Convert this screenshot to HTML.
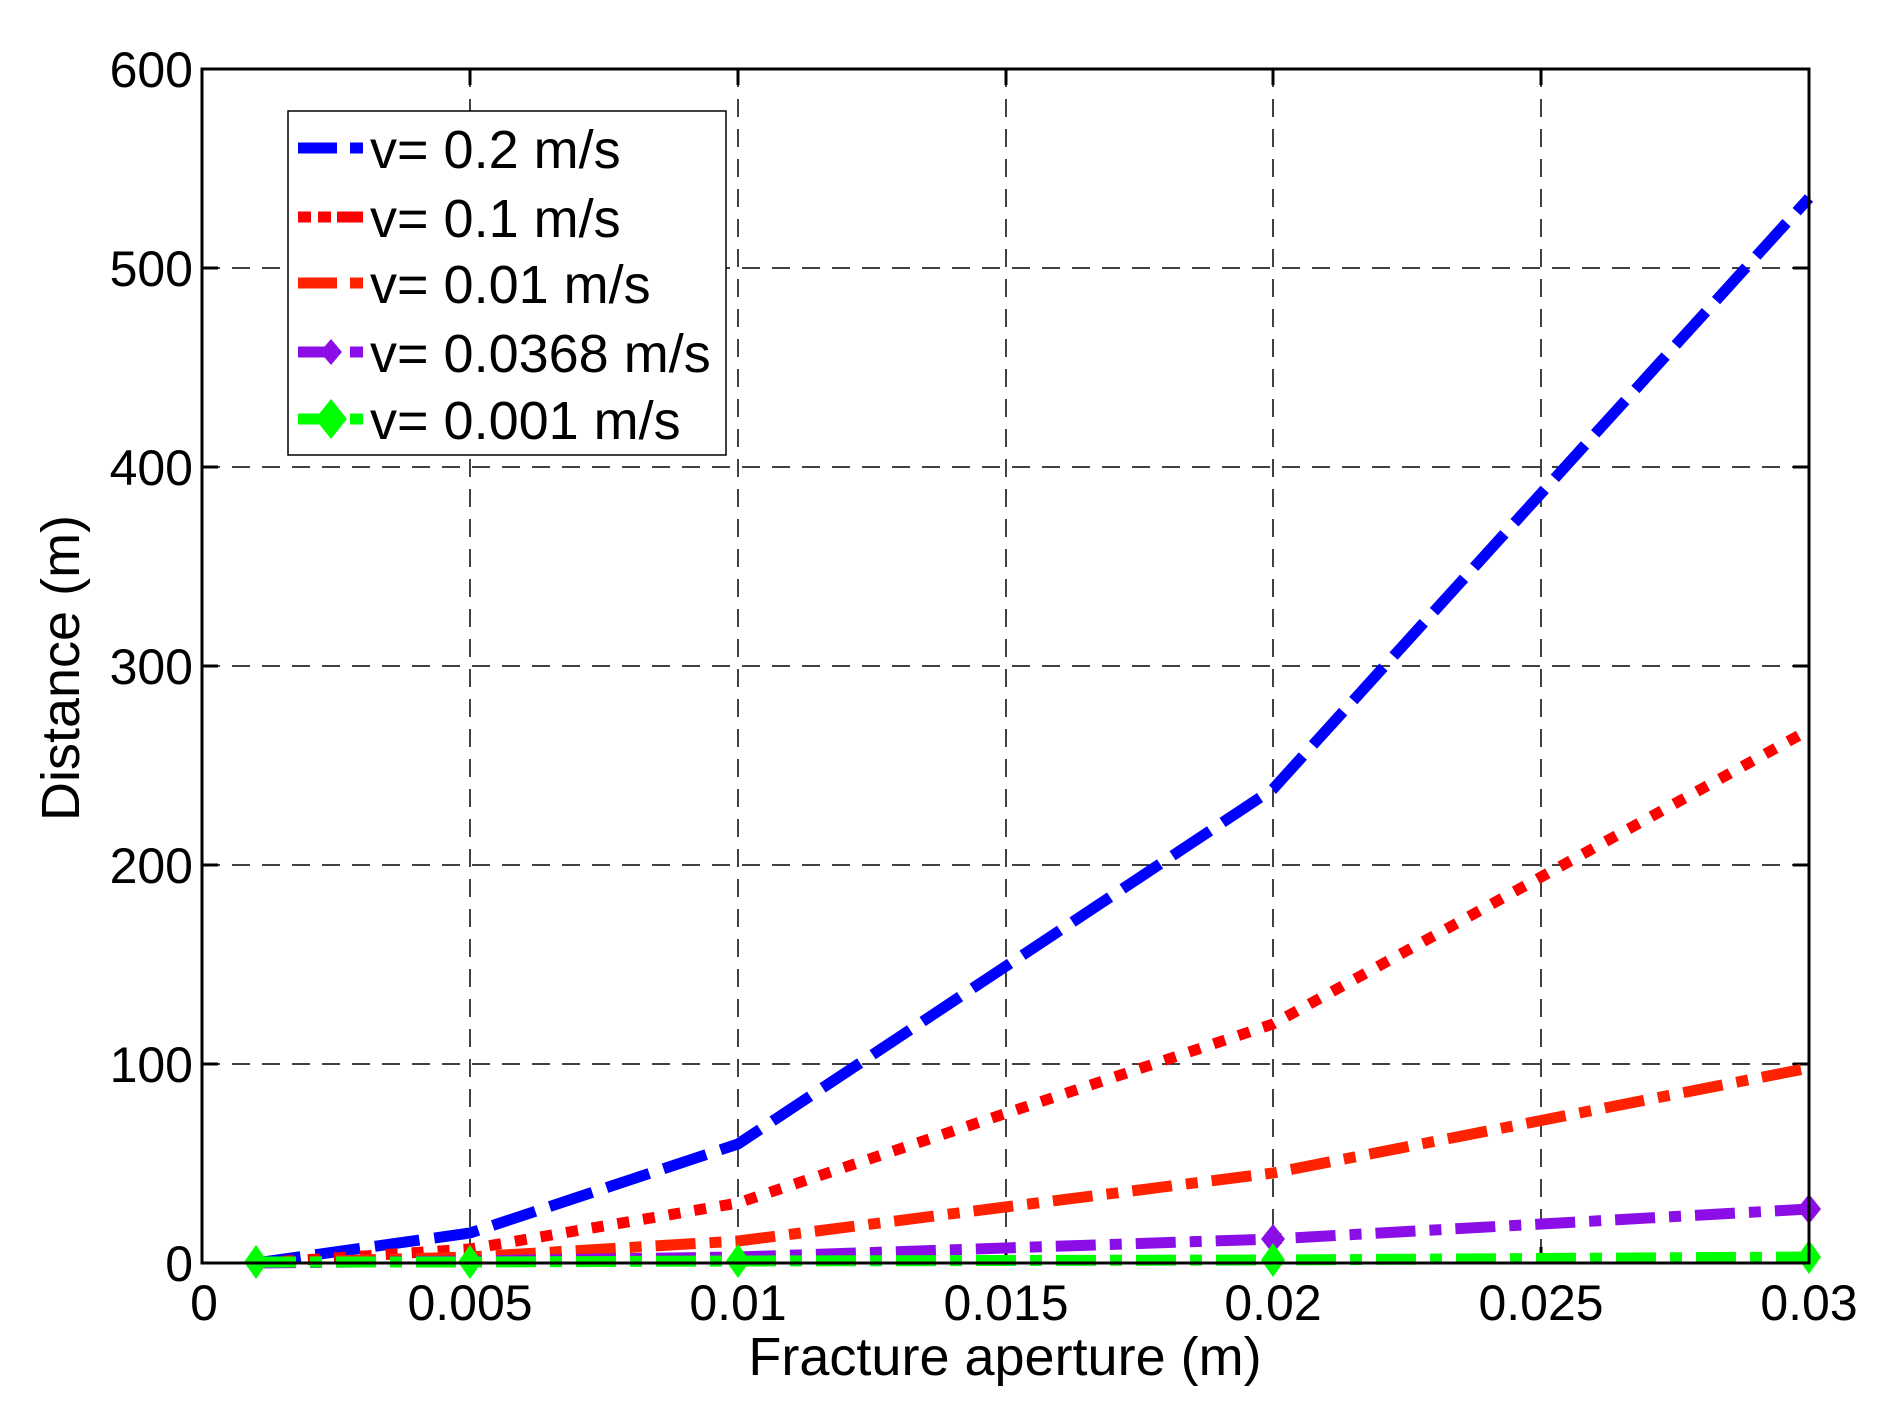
<!DOCTYPE html>
<html><head><style>body{margin:0;background:#fff}svg{display:block}</style></head><body>
<svg width="1895" height="1419" xmlns="http://www.w3.org/2000/svg" font-family="Liberation Sans, sans-serif">
<rect width="1895" height="1419" fill="#fff"/>
<g stroke="#000" stroke-width="1.5" stroke-dasharray="18,12">
<line x1="470" y1="69" x2="470" y2="1263"/><line x1="738" y1="69" x2="738" y2="1263"/><line x1="1006" y1="69" x2="1006" y2="1263"/><line x1="1273" y1="69" x2="1273" y2="1263"/><line x1="1541" y1="69" x2="1541" y2="1263"/>
<line x1="202" y1="268" x2="1809" y2="268"/><line x1="202" y1="467" x2="1809" y2="467"/><line x1="202" y1="666" x2="1809" y2="666"/><line x1="202" y1="865" x2="1809" y2="865"/><line x1="202" y1="1064" x2="1809" y2="1064"/>
</g>
<g stroke="#000" stroke-width="3">
<path d="M470 1263v-16M738 1263v-16M1006 1263v-16M1273 1263v-16M1541 1263v-16M470 69v16M738 69v16M1006 69v16M1273 69v16M1541 69v16"/>
<path d="M202 268h16M202 467h16M202 666h16M202 865h16M202 1064h16M1809 268h-16M1809 467h-16M1809 666h-16M1809 865h-16M1809 1064h-16"/>
</g>
<g fill="none" stroke-width="11" stroke-linejoin="round">
<polyline stroke="#0000ff" stroke-dasharray="45,15" points="256,1263 470,1233 738,1144 1273,789 1809,198"/>
<polyline stroke="#ff0000" stroke-dasharray="12,14" points="256,1263 470,1249 738,1203 1273,1024 1809,730"/>
<polyline stroke="#ff2200" stroke-dasharray="40,14,12,14" points="256,1263 470,1257 738,1241 1273,1173 1809,1068"/>
<polyline stroke="#8b0ee6" stroke-dasharray="40,14,12,14" points="256,1263 470,1261 738,1257 1273,1239 1809,1209"/>
<polyline stroke="#00ff00" stroke-dasharray="40,14,12,14" points="256,1262 470,1262 738,1261 1273,1260 1809,1257"/>
</g>
<g fill="#8b0ee6"><path d="M1273 1224l12 15-12 15-12-15z"/><path d="M1809 1194l12 15-12 15-12-15z"/></g>
<g fill="#00ff00"><path d="M256 1245l12 17-12 17-12-17z"/><path d="M470 1245l12 17-12 17-12-17z"/><path d="M738 1244l12 17-12 17-12-17z"/><path d="M1273 1243l12 17-12 17-12-17z"/><path d="M1809 1240l12 17-12 17-12-17z"/></g>
<rect x="202" y="69" width="1607" height="1194" fill="none" stroke="#000" stroke-width="3"/>
<rect x="288" y="111" width="438" height="344" fill="#fff" stroke="#000" stroke-width="1.5"/>
<g stroke-width="11">
<line x1="298" y1="148" x2="337" y2="148" stroke="#0000ff"/><line x1="350" y1="148" x2="363" y2="148" stroke="#0000ff"/>
<path d="M298 217h13M318 217h13M337 217h13M350 217h13" stroke="#ff0000"/>
<line x1="298" y1="283" x2="337" y2="283" stroke="#ff2200"/><line x1="350" y1="283" x2="363" y2="283" stroke="#ff2200"/>
<line x1="298" y1="352" x2="330" y2="352" stroke="#8b0ee6"/><line x1="350" y1="352" x2="363" y2="352" stroke="#8b0ee6"/>
<line x1="298" y1="419" x2="330" y2="419" stroke="#00ff00"/><line x1="350" y1="419" x2="363" y2="419" stroke="#00ff00"/>
</g>
<path d="M331 339l11 13-11 13-11-13z" fill="#8b0ee6"/>
<path d="M331 399l16 20-16 20-16-20z" fill="#00ff00"/>
<g font-size="54" fill="#000">
<text x="370" y="168">v= 0.2 m/s</text>
<text x="370" y="237">v= 0.1 m/s</text>
<text x="370" y="303">v= 0.01 m/s</text>
<text x="370" y="372">v= 0.0368 m/s</text>
<text x="370" y="439">v= 0.001 m/s</text>
</g>
<g font-size="50" fill="#000" text-anchor="end">
<text x="193" y="87">600</text><text x="193" y="286">500</text><text x="193" y="485">400</text><text x="193" y="684">300</text><text x="193" y="883">200</text><text x="193" y="1082">100</text><text x="193" y="1281">0</text>
</g>
<g font-size="50" fill="#000" text-anchor="middle">
<text x="204" y="1320">0</text><text x="470" y="1320">0.005</text><text x="738" y="1320">0.01</text><text x="1006" y="1320">0.015</text><text x="1273" y="1320">0.02</text><text x="1541" y="1320">0.025</text><text x="1809" y="1320">0.03</text>
</g>
<g font-size="54" fill="#000" text-anchor="middle">
<text x="1005" y="1375">Fracture aperture (m)</text>
<text transform="translate(79,668) rotate(-90)">Distance (m)</text>
</g>
</svg>
</body></html>
